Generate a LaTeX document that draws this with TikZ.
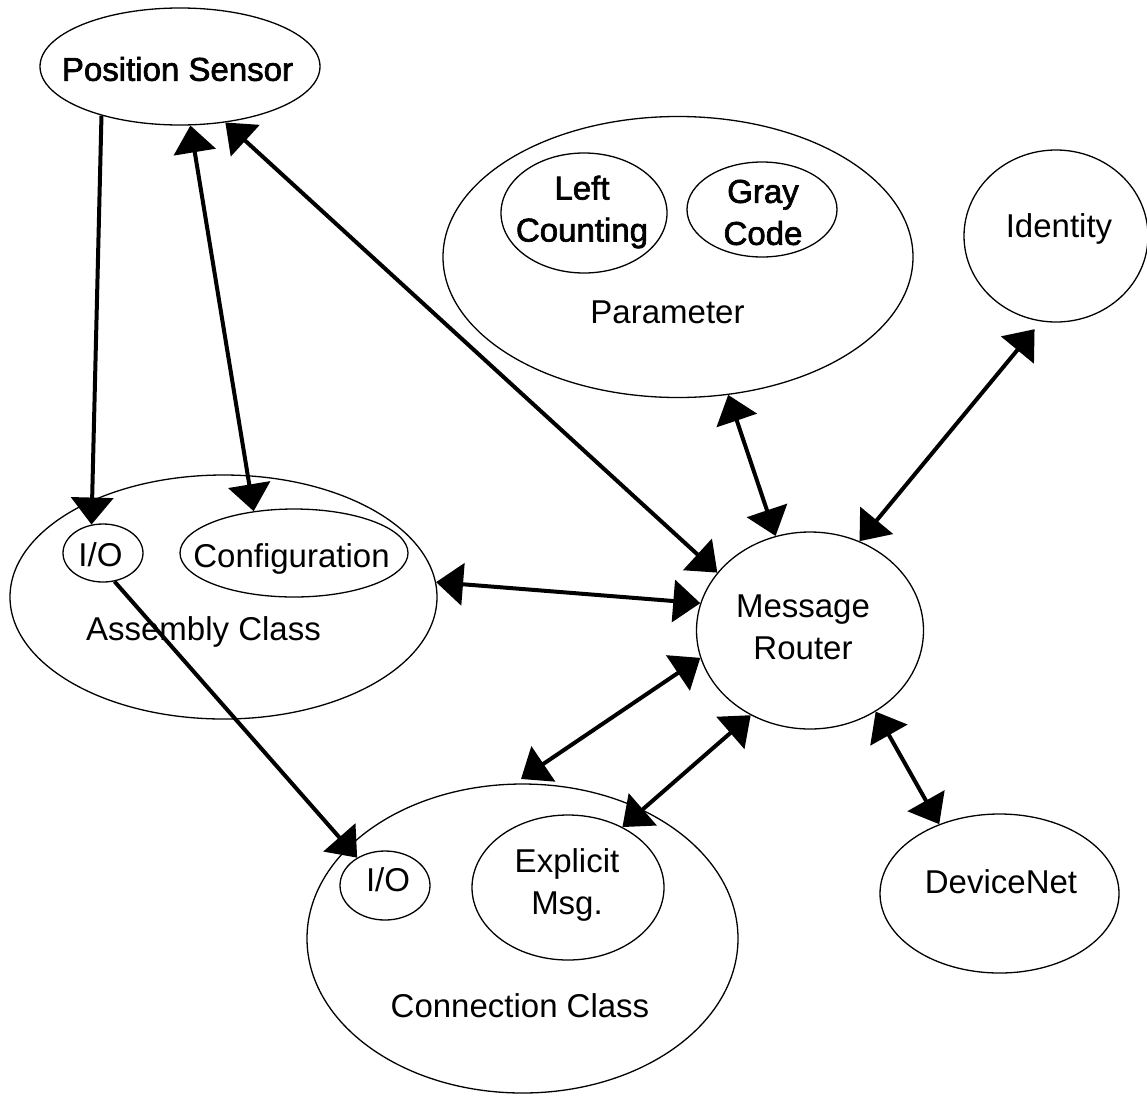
\documentclass[tikz,border=0pt]{standalone}
\usepackage{fontspec}
\setmainfont{Liberation Sans}
\newfontfamily\heavyfont[FakeBold=2]{Liberation Sans}
\usepackage{xcolor}
\usetikzlibrary{shapes.geometric,arrows.meta}

\begin{document}
\begin{tikzpicture}[x=1pt, y=-1pt,
                ovalnode/.style={ellipse, draw=black, line width=1.3pt, inner sep=0pt},
                labelnode/.style={inner sep=0pt, align=center, font=\fontsize{33}{42}\selectfont},
                heavylabel/.style={labelnode, font=\heavyfont\fontsize{33}{42}\selectfont},
                arrow/.style={line width=4pt, -{Triangle[length=27pt, width=42pt]}},
                dblarrow/.style={line width=4pt, {Triangle[length=27pt, width=42pt]}-{Triangle[length=27pt, width=42pt]}}
                ]
                \useasboundingbox (0,0) rectangle (1147,1095);
                \node[ovalnode, minimum width=280pt, minimum height=117pt] (possensor) at (180,66.5) {};
                \node[heavylabel] (possensorlabel) at (177.5,69) {Position Sensor};
                \node[ovalnode, minimum width=470pt, minimum height=281pt] (parameter) at (678,257) {};
                \node[labelnode] (parameterlabel) at (667.5,312) {Parameter};
                \node[ovalnode, minimum width=166pt, minimum height=120pt] (leftcount) at (584,213) {};
                \node[heavylabel] (leftcountlabel) at (582,212) {Left\\Counting};
                \node[ovalnode, minimum width=150pt, minimum height=95pt] (graycode) at (762,209.5) {};
                \node[heavylabel] (graycodelabel) at (763,212.5) {Gray\\Code};
                \node[ovalnode, minimum width=184pt, minimum height=172pt] (identity) at (1056,236) {};
                \node[labelnode] (identitylabel) at (1059,229) {Identity};
                \node[ovalnode, minimum width=427pt, minimum height=244pt] (assembly) at (223.5,597) {};
                \node[labelnode] (assemblylabel) at (203.5,632) {Assembly Class};
                \node[ovalnode, minimum width=80pt, minimum height=58pt] (asmio) at (103,553) {};
                \node[labelnode] (asmiolabel) at (100.5,555) {I/O};
                \node[ovalnode, minimum width=228pt, minimum height=88pt] (config) at (294,553) {};
                \node[labelnode] (configlabel) at (291.5,558.5) {Configuration};
                \node[ovalnode, minimum width=227pt, minimum height=197pt] (router) at (810,630.5) {};
                \node[labelnode] (routerlabel) at (803,627) {Message\\Router};
                \node[ovalnode, minimum width=431pt, minimum height=309pt] (connection) at (522.5,938.5) {};
                \node[labelnode] (connectionlabel) at (520,1006) {Connection Class};
                \node[ovalnode, minimum width=90pt, minimum height=69pt] (connio) at (385,885.5) {};
                \node[labelnode] (conniolabel) at (388,879.5) {I/O};
                \node[ovalnode, minimum width=192pt, minimum height=145pt] (explicit) at (568,887.5) {};
                \node[labelnode] (explicitlabel) at (567,884.5) {Explicit\\Msg.};
                \node[ovalnode, minimum width=239pt, minimum height=159pt] (devicenet) at (999.5,893.5) {};
                \node[labelnode] (devicenetlabel) at (1001,881.5) {DeviceNet};
                \draw[arrow] (possensor.212) -- (asmio.112);
                \draw[dblarrow] (possensor.280) -- (config.134);
                \draw[dblarrow] (possensor.309) -- (router.148);
                \draw[dblarrow] (parameter.290) -- (router.110);
                \draw[dblarrow, shorten <=10pt] (identity.260) -- (router.61);
                \draw[dblarrow] (assembly.4) -- (router.166);
                \draw[dblarrow, shorten <=8pt] (connection.93) -- (router.194);
                \draw[dblarrow] (explicit.48) -- (router.235);
                \draw[dblarrow] (router.309) -- (devicenet.131);
                \draw[arrow] (asmio.292) -- (connio.135);
            \end{tikzpicture}
\end{document}
